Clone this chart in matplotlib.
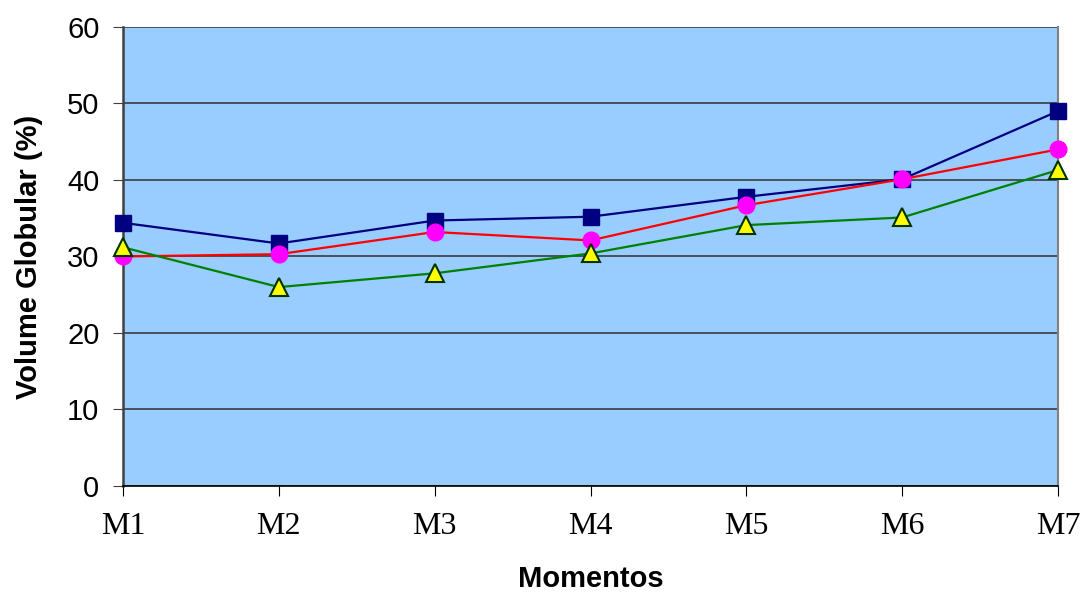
import matplotlib.pyplot as plt
import numpy as np

momentos = ['M1', 'M2', 'M3', 'M4', 'M5', 'M6', 'M7']
serie_azul = [34.4, 31.7, 34.7, 35.2, 37.8, 40.1, 49.0]
serie_vermelha = [30.0, 30.3, 33.2, 32.1, 36.7, 40.1, 44.0]
serie_verde = [31.2, 26.0, 27.8, 30.4, 34.1, 35.1, 41.3]

x = np.arange(len(momentos))

fig = plt.figure(figsize=(10.82, 5.96), dpi=100)
ax = fig.add_axes([0.1137, 0.1846, 0.8641, 0.7701])
ax.set_facecolor('#99CCFF')

ax.plot(x, serie_azul, color='#000080', lw=1.6, marker='s', ms=11.5,
        mfc='#000080', mec='#000080', zorder=3, clip_on=False)
ax.plot(x, serie_vermelha, color='#FF0000', lw=1.6, marker='o', ms=12,
        mfc='#FF00FF', mec='#FF00FF', zorder=4, clip_on=False)
ax.plot(x, serie_verde, color='#008000', lw=1.6, marker='^', ms=13,
        mfc='#FFFF00', mec='#003300', mew=1.5, zorder=5, clip_on=False)

ax.set_xlim(0, len(momentos) - 1)
ax.set_ylim(0, 60)
ax.set_yticks(range(0, 61, 10))
ax.set_xticks(x)
ax.set_xticklabels(momentos, family='Liberation Serif', fontsize=23)
ax.tick_params(axis='y', labelsize=21, length=7, direction='out', pad=10,
               color='#404040')
ax.tick_params(axis='x', length=7, direction='out', pad=12, color='black')
for lab in ax.get_yticklabels():
    lab.set_family('Liberation Sans')

ax.grid(axis='y', color='#303030', lw=1.1)
ax.set_axisbelow(True)
ax.spines['top'].set_visible(False)
ax.spines['right'].set_color('#808080')
ax.spines['right'].set_linewidth(1.5)
ax.spines['left'].set_color('#404040')
ax.spines['left'].set_linewidth(1.8)
ax.spines['bottom'].set_color('black')
ax.spines['bottom'].set_linewidth(1.2)

ax.set_ylabel('Volume Globular (%)', family='Liberation Sans', fontsize=21,
              fontweight='bold', labelpad=17)
ax.set_xlabel('Momentos', family='Liberation Sans', fontsize=21,
              fontweight='bold', labelpad=17)

fig.savefig('out.png', dpi=100)
